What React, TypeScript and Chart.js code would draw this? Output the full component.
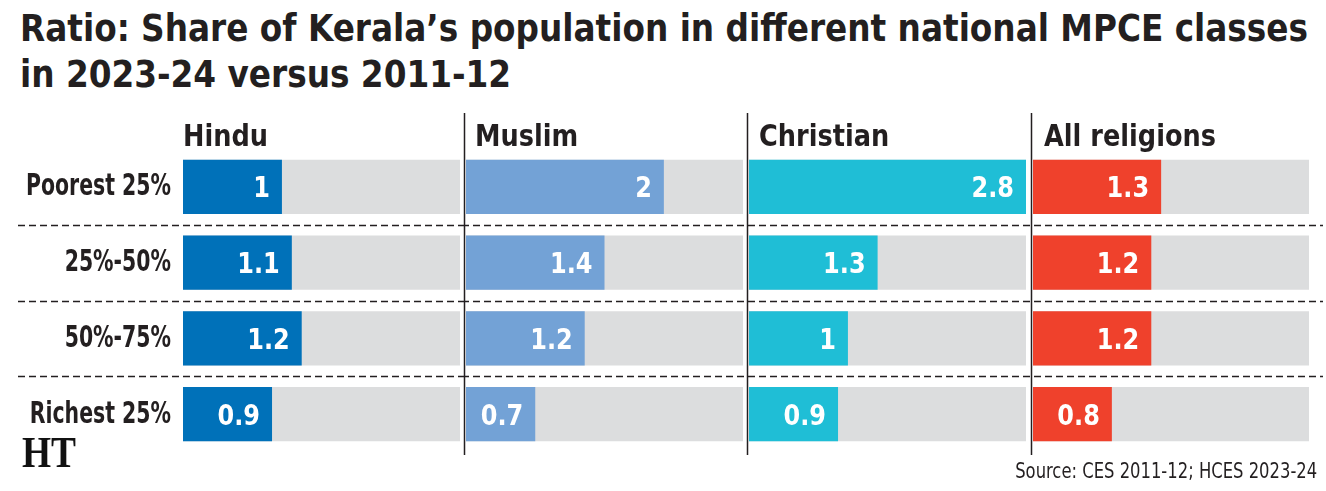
import React, { useEffect, useRef } from "react";
import { Chart, registerables } from "chart.js";

Chart.register(...registerables);

// Consumption classes (rows) and religious groups (panels)
const categories = ["Poorest 25%", "25%-50%", "50%-75%", "Richest 25%"];
const groups = ["Hindu", "Muslim", "Christian", "All religions"];

// Ratio of 2023-24 share to 2011-12 share, per class
const hindu = [1, 1.1, 1.2, 0.9];
const muslim = [2, 1.4, 1.2, 0.7];
const christian = [2.8, 1.3, 1, 0.9];
const allReligions = [1.3, 1.2, 1.2, 0.8];

// Common end of the grey track in every panel
const trackMax = 2.8;

const INK = "#231f20";
const TRACK = "#dcddde";
const NARROW = '"DejaVu Sans Condensed", "DejaVu Sans", sans-serif';

const TITLE_FONT = `bold 37px ${NARROW}`;
const LABEL_FONT = `bold 30px ${NARROW}`;
const SOURCE_FONT = `21.5px ${NARROW}`;
const HEADER_FONT = `bold 31px ${NARROW}`;
const VALUE_FONT = `bold 29px ${NARROW}`;

// target widths used to condense the narrow-style text
const TITLE_WIDTH = 1288;
const LABEL_WIDTH = 145;
const SOURCE_WIDTH = 302;
const HEADER_WIDTH = 85;

const panelSeries = [hindu, muslim, christian, allReligions];
const panelColors = ["#0071b9", "#73a2d6", "#1fbed6", "#ef412c"];

// Canvas placement of each panel on the page
const panelLayout = [
  { left: 0, width: 463, padL: 183, padR: 3, labels: true, divider: false, headerDx: 0, dashFrom: 18, dashTo: 463 },
  { left: 463, width: 283, padL: 3, padR: 3, labels: false, divider: true, headerDx: 9, dashFrom: 0, dashTo: 283 },
  { left: 746, width: 283, padL: 3, padR: 3, labels: false, divider: true, headerDx: 10, dashFrom: 0, dashTo: 283 },
  { left: 1029, width: 297, padL: 4, padR: 17, labels: false, divider: true, headerDx: 11, dashFrom: 0, dashTo: 294 },
];

const CANVAS_H = 491;
const AREA_TOP = 149;
const AREA_BOTTOM = 452;

const measureCtx = (() => {
  const c = document.createElement("canvas");
  return c.getContext("2d") as CanvasRenderingContext2D;
})();

function widthOf(text: string, font: string) {
  measureCtx.font = font;
  return measureCtx.measureText(text).width;
}

function drawCondensed(ctx: CanvasRenderingContext2D, text: string, x: number, y: number, sx: number) {
  ctx.save();
  ctx.translate(x, y);
  ctx.scale(sx, 1);
  ctx.fillText(text, 0, 0);
  ctx.restore();
}

const panelDecor = {
  id: "panelDecor",
  afterDatasetsDraw(chart: any, _args: any, opts: any) {
    const { ctx, chartArea, scales } = chart;
    const yScale = scales.y;
    const labels: string[] = chart.data.labels;
    ctx.save();

    // dashed row separators
    ctx.strokeStyle = INK;
    ctx.lineWidth = 1.4;
    ctx.setLineDash([7, 4]);
    ctx.lineDashOffset = opts.globalLeft;
    for (let i = 0; i < labels.length - 1; i++) {
      const yy = Math.round((yScale.getPixelForValue(i) + yScale.getPixelForValue(i + 1)) / 2) + 0.5;
      ctx.beginPath();
      ctx.moveTo(opts.dashFrom, yy);
      ctx.lineTo(opts.dashTo, yy);
      ctx.stroke();
    }
    ctx.setLineDash([]);

    // vertical panel divider
    if (opts.divider) {
      ctx.lineWidth = 1.5;
      const x = chartArea.left - 1.5;
      ctx.beginPath();
      ctx.moveTo(x, chartArea.top - 36);
      ctx.lineTo(x, chartArea.bottom + 3);
      ctx.stroke();
    }

    ctx.fillStyle = INK;
    ctx.textBaseline = "alphabetic";

    // row labels
    if (opts.labels) {
      const sx = LABEL_WIDTH / widthOf(labels[0], LABEL_FONT);
      ctx.font = LABEL_FONT;
      ctx.textAlign = "right";
      labels.forEach((lab, i) => {
        drawCondensed(ctx, lab, chartArea.left - 12, yScale.getPixelForValue(i) + 8.5, sx);
      });
    }

    // panel heading
    const hsx = HEADER_WIDTH / widthOf(groups[0], HEADER_FONT);
    ctx.font = HEADER_FONT;
    ctx.textAlign = "left";
    drawCondensed(ctx, opts.title, chartArea.left + opts.headerDx, chartArea.top - 3, hsx);

    // value labels inside bar ends
    const meta = chart.getDatasetMeta(0);
    const values = chart.data.datasets[0].data;
    ctx.fillStyle = "#ffffff";
    ctx.font = VALUE_FONT;
    ctx.textAlign = "right";
    meta.data.forEach((bar: any, i: number) => {
      drawCondensed(ctx, String(values[i]), bar.x - 12, bar.y + 10.5, 0.92);
    });

    ctx.restore();
  },
};

const titleLines = [
  "Ratio: Share of Kerala’s population in different national MPCE classes",
  "in 2023-24 versus 2011-12",
];
const sourceText = "Source: CES 2011-12; HCES 2023-24";

export default function App() {
  const refs = useRef<(HTMLCanvasElement | null)[]>([]);
  const titleRef = useRef<HTMLDivElement | null>(null);
  const sourceRef = useRef<HTMLDivElement | null>(null);

  useEffect(() => {
    if (titleRef.current) {
      const sx = TITLE_WIDTH / widthOf(titleLines[0], TITLE_FONT);
      titleRef.current.style.transform = `scaleX(${sx})`;
    }
    if (sourceRef.current) {
      const sx = SOURCE_WIDTH / widthOf(sourceText, SOURCE_FONT);
      sourceRef.current.style.transform = `scaleX(${sx})`;
    }

    const charts = panelLayout.map((p, idx) => {
      const canvas = refs.current[idx] as HTMLCanvasElement;
      const values = panelSeries[idx];
      return new Chart(canvas, {
        type: "bar",
        data: {
          labels: categories,
          datasets: [
            {
              data: values,
              backgroundColor: panelColors[idx],
              borderWidth: 0,
              grouped: false,
              order: 0,
              barPercentage: 0.713,
              categoryPercentage: 1,
            },
            {
              data: values.map(() => trackMax),
              backgroundColor: TRACK,
              borderWidth: 0,
              grouped: false,
              order: 1,
              barPercentage: 0.713,
              categoryPercentage: 1,
            },
          ],
        },
        options: {
          indexAxis: "y",
          responsive: false,
          animation: false,
          events: [],
          layout: {
            padding: { left: p.padL, right: p.padR, top: AREA_TOP, bottom: CANVAS_H - AREA_BOTTOM },
          },
          scales: {
            x: { display: false, min: 0, max: trackMax },
            y: { display: false },
          },
          plugins: {
            legend: { display: false },
            tooltip: { enabled: false },
            panelDecor: {
              title: groups[idx],
              labels: p.labels,
              headerDx: p.headerDx,
              divider: p.divider,
              dashFrom: p.dashFrom,
              dashTo: p.dashTo,
              globalLeft: p.left,
            },
          } as any,
        },
        plugins: [panelDecor],
      } as any);
    });
    return () => charts.forEach((c) => c.destroy());
  }, []);

  return (
    <div
      style={{
        position: "absolute",
        left: 0,
        top: 0,
        width: 1326,
        height: 491,
        background: "#ffffff",
        overflow: "hidden",
      }}
    >
      <div
        ref={titleRef}
        style={{
          position: "absolute",
          left: 20,
          top: 6,
          font: TITLE_FONT,
          lineHeight: "46px",
          color: INK,
          whiteSpace: "nowrap",
          transformOrigin: "left top",
        }}
      >
        {titleLines[0]}
        <br />
        {titleLines[1]}
      </div>
      {panelLayout.map((p, idx) => (
        <canvas
          key={idx}
          ref={(el) => {
            refs.current[idx] = el;
          }}
          width={p.width}
          height={CANVAS_H}
          style={{ position: "absolute", left: p.left, top: 0, display: "block" }}
        />
      ))}
      <div
        style={{
          position: "absolute",
          left: 22,
          top: 431,
          font: 'bold 44px "Liberation Serif", "DejaVu Serif", serif',
          lineHeight: "44px",
          color: "#111111",
          transform: "scaleX(0.85)",
          transformOrigin: "left top",
        }}
      >
        HT
      </div>
      <div
        ref={sourceRef}
        style={{
          position: "absolute",
          right: 9,
          top: 460,
          font: SOURCE_FONT,
          lineHeight: "21.5px",
          color: INK,
          whiteSpace: "nowrap",
          transformOrigin: "right top",
        }}
      >
        {sourceText}
      </div>
    </div>
  );
}
